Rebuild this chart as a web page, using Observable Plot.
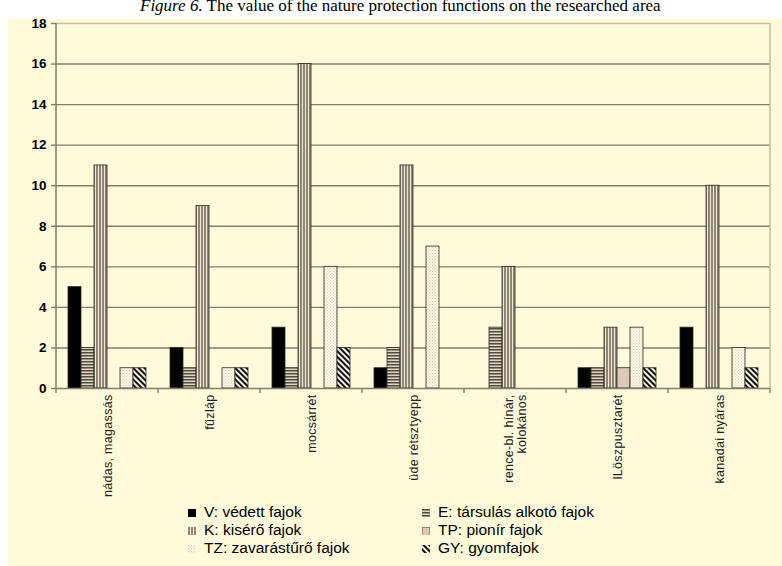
<!DOCTYPE html>
<html>
<head>
<meta charset="utf-8">
<script src="https://cdn.jsdelivr.net/npm/d3@7"></script>
<script src="https://cdn.jsdelivr.net/npm/@observablehq/plot@0.6"></script>
<style>
  body { margin: 0; background: #fff; width: 782px; height: 566px; overflow: hidden; position: relative; }
  #title { position: absolute; left: 140px; top: -3px; font: 17px/17px "Liberation Serif", "Times New Roman", serif; color: #000; white-space: nowrap; }
  #panel { position: absolute; left: 8px; top: 19px; width: 774px; height: 547px; background: #FFFADA; }
  #chart { position: absolute; left: 0; top: 0; }
  .leg { position: absolute; font: 15.5px/18px "Liberation Sans", Arial, sans-serif; color: #000; white-space: nowrap; }
  .sw { display: inline-block; width: 8px; height: 8px; margin-right: 8px; vertical-align: 0px; }
</style>
</head>
<body>
<svg width="0" height="0" style="position:absolute">
  <defs>
    <pattern id="pE" width="4" height="3" patternUnits="userSpaceOnUse">
      <rect width="4" height="3" fill="#e0d5ba"/>
      <rect width="4" height="1.5" fill="#4f4b45"/>
    </pattern>
    <pattern id="pK" width="3" height="4" patternUnits="userSpaceOnUse">
      <rect width="3" height="4" fill="#eee7d2"/>
      <rect width="2" height="4" fill="#8f8675"/>
    </pattern>
    <pattern id="pTZ" width="3" height="3" patternUnits="userSpaceOnUse">
      <rect width="3" height="3" fill="#fcf6e4"/>
      <rect x="0" y="0" width="1" height="1" fill="#ddd0b2"/>
      <rect x="1.5" y="1.5" width="1" height="1" fill="#ddd0b2"/>
    </pattern>
    <pattern id="pGY" width="4" height="4" patternUnits="userSpaceOnUse" patternTransform="rotate(-45)">
      <rect width="4" height="4" fill="#f4efe0"/>
      <rect width="2" height="4" fill="#111"/>
    </pattern>
  </defs>
</svg>
<div id="title"><i>Figure 6.</i> The value of the nature protection functions on the researched area</div>
<div id="panel">
  <div id="chart"></div>
  <div id="legend"></div>
</div>
<script>
const categories = ["nádas, magassás", "fűzláp", "mocsárrét", "üde rétsztyepp", "rence-bl. hínár,\nkolokános", "lLöszpusztarét", "kanadai nyáras"];
const series = ["V", "E", "K", "TP", "TZ", "GY"];
const seriesLabels = ["V: védett fajok", "E: társulás alkotó fajok", "K: kisérő fajok", "TP: pionír fajok", "TZ: zavarástűrő fajok", "GY: gyomfajok"];
const V  = [5, 2, 3, 1, 0, 1, 3];
const E  = [2, 1, 1, 2, 3, 1, 0];
const K  = [11, 9, 16, 11, 6, 3, 10];
const TP = [0, 0, 0, 0, 0, 1, 0];
const TZ = [1, 1, 6, 7, 0, 3, 2];
const GY = [1, 1, 2, 0, 0, 1, 1];
const yTicks = [0, 2, 4, 6, 8, 10, 12, 14, 16, 18];

const values = {V, E, K, TP, TZ, GY};
const fills = {V: "#000", E: "url(#pE)", K: "url(#pK)", TP: "#dccab2", TZ: "url(#pTZ)", GY: "url(#pGY)"};
const rows = [];
categories.forEach((c, i) => series.forEach(s => rows.push({cat: c, s, v: values[s][i]})));

const gridCol = "#857c6c";
const borderCol = "#cbbd9f";

const plot = Plot.plot({
  width: 774,
  height: 470,
  marginLeft: 47,
  marginTop: 4,
  marginRight: 11,
  marginBottom: 101,
  style: {background: "transparent", fontFamily: "'Liberation Sans', Arial, sans-serif", color: "#000", overflow: "visible"},
  fx: {domain: categories, padding: 0, label: null, axis: null},
  x: {domain: series, paddingInner: 0, paddingOuter: 0.7, axis: null},
  y: {domain: [0, 18], label: null},
  marks: [
    Plot.gridY(yTicks.filter(t => t > 0 && t < 18), {stroke: gridCol, strokeOpacity: 1, strokeWidth: 1.4}),
    Plot.ruleY([18], {stroke: borderCol, strokeWidth: 1.5}),
    ...series.map(s => Plot.barY(rows.filter(r => r.s === s && r.v > 0), {
      fx: "cat", x: "s", y: "v", fill: fills[s], stroke: "#2a2a2a", strokeWidth: 0.8
    })),
    Plot.ruleY([0], {stroke: gridCol, strokeWidth: 1.5}),
    Plot.axisY({ticks: yTicks, tickSize: 5, tickPadding: 5, stroke: gridCol, strokeWidth: 1.4,
      fontSize: 13.5, fontWeight: "bold", fontFamily: "'Liberation Sans Narrow', 'Liberation Sans', Arial, sans-serif", fill: "#000"}),
    Plot.axisFx({anchor: "bottom", tickSize: 0, tickPadding: 6, tickRotate: -90, fontSize: 12.5, fill: "#222", label: null})
  ]
});
d3.select(plot).selectAll("[aria-label='fx-axis tick label'] text, [aria-label='fx-axis tick label']")
  .style("letter-spacing", "0.3px");
document.getElementById("chart").appendChild(plot);

// category boundary ticks, y axis line and right border through the fx and y scales
const fx = plot.scale("fx");
const y = plot.scale("y");
const svg = d3.select(plot);
const y0 = y.apply(0), y18 = y.apply(18);
const bounds = categories.map(c => fx.apply(c));
bounds.push(fx.apply(categories[categories.length - 1]) + fx.bandwidth);
const g = svg.append("g");
g.selectAll("line.b").data(bounds).join("line")
  .attr("x1", d => d).attr("x2", d => d).attr("y1", y0).attr("y2", y0 + 5)
  .attr("stroke", gridCol).attr("stroke-width", 1.4);
g.append("line").attr("x1", bounds[bounds.length - 1]).attr("x2", bounds[bounds.length - 1])
  .attr("y1", y18).attr("y2", y0).attr("stroke", borderCol).attr("stroke-width", 1.5);
g.append("line").attr("x1", bounds[0]).attr("x2", bounds[0])
  .attr("y1", y18).attr("y2", y0).attr("stroke", gridCol).attr("stroke-width", 1.5);

// legend
const legend = document.getElementById("legend");
const legPos = [[180, 484], [414, 484], [180, 502], [414, 502], [180, 520], [414, 520]];
series.forEach((s, i) => {
  const d = document.createElement("div");
  d.className = "leg";
  d.style.left = legPos[i][0] + "px";
  d.style.top = legPos[i][1] + "px";
  const sw = document.createElementNS("http://www.w3.org/2000/svg", "svg");
  sw.setAttribute("width", 8); sw.setAttribute("height", 9);
  sw.setAttribute("class", "sw");
  const r = document.createElementNS("http://www.w3.org/2000/svg", "rect");
  r.setAttribute("width", 8); r.setAttribute("height", 9);
  r.setAttribute("fill", fills[s]);
  if (s === "TP") { r.setAttribute("stroke", "#333"); r.setAttribute("stroke-width", 0.8); }
  sw.appendChild(r);
  d.appendChild(sw);
  d.appendChild(document.createTextNode(seriesLabels[i]));
  legend.appendChild(d);
});
</script>
</body>
</html>
